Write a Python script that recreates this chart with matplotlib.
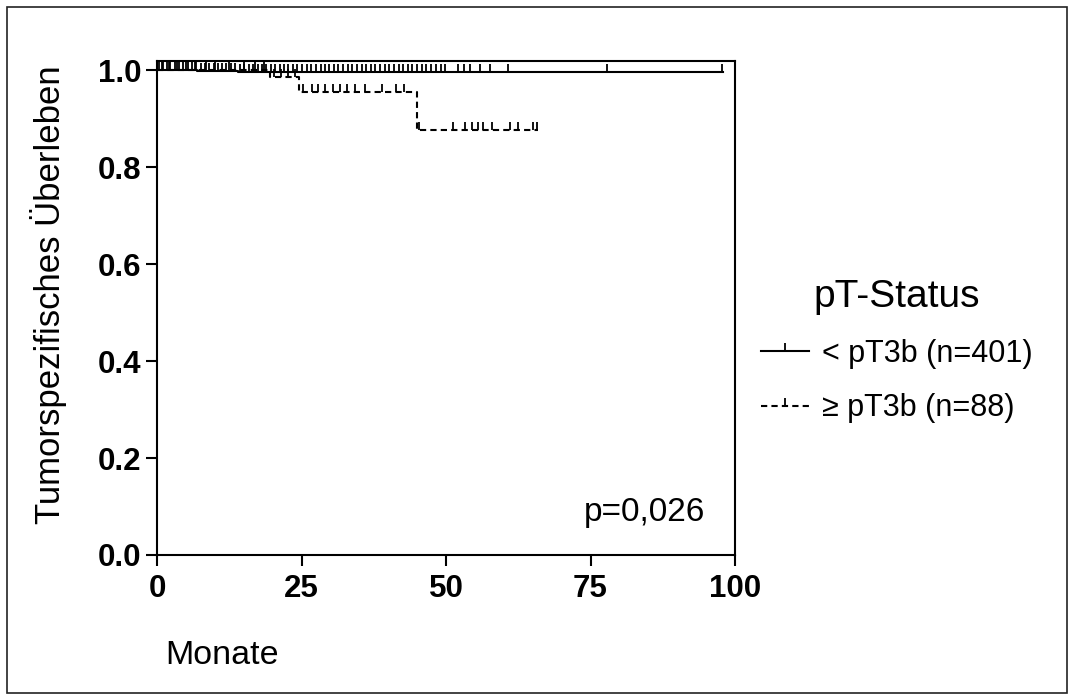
import numpy as np
import matplotlib.pyplot as plt
from matplotlib.path import Path
from matplotlib.lines import Line2D
from matplotlib.patches import Rectangle

plt.rcParams['font.family'] = ['Liberation Sans', 'DejaVu Sans']

# Kaplan-Meier steps (months, survival)
low_t = [0, 7, 14, 98]
low_s = [1.0, 0.9975, 0.995, 0.995]
high_t = [0, 19.5, 24.5, 45, 66]
high_s = [1.0, 0.986, 0.955, 0.876, 0.876]

# censored observations (months)
low_cens = [0.4, 1.0, 1.7, 2.3, 3.1, 3.8, 4.5, 5.3, 6.0, 6.8, 7.6, 8.3, 9.0,
            9.8, 10.5, 11.3, 12.0, 12.8, 13.5, 14.3, 15.1, 15.9, 16.6, 17.4,
            18.1, 18.9, 19.7, 20.4, 21.2, 22.0, 22.7, 23.5, 24.3, 25.0, 25.9,
            26.7, 27.5, 28.3, 29.0, 29.8, 30.6, 31.4, 32.2, 33.0, 33.8, 34.6,
            35.4, 36.2, 37.0, 37.8, 38.6, 39.4, 40.2, 41.0, 41.8, 42.6, 43.4,
            44.2, 45.0, 45.8, 46.6, 47.4, 48.3, 49.1, 49.9, 52.1, 53.2, 54.1,
            55.8, 57.6, 60.7, 77.9, 97.8]
high_cens = [0.8, 2.0, 3.5, 5.0, 6.5, 8.5, 10.0, 12.5, 15.0, 17.0, 18.5,
             20.3, 21.4, 22.6, 23.8,
             25.3, 26.8, 27.9, 29.1, 30.4, 31.7, 32.9, 34.3, 36.0, 38.9, 41.3, 42.7,
             45.4, 51.2, 53.3, 54.5, 55.5, 56.4, 58.0, 61.1, 62.5, 65.0, 65.7]

labels = ['< pT3b (n=401)', '\u2265 pT3b (n=88)']

tick = Path([(0, 0), (0, 1)])


def surv_at(times, steps, surv):
    idx = np.searchsorted(steps, times, side='right') - 1
    return np.array(surv)[idx]


fig = plt.figure(figsize=(10.74, 7.0), dpi=100)
ax = fig.add_axes([157 / 1074, 145 / 700, 578 / 1074, 494 / 700])

ax.step(low_t, low_s, where='post', color='black', lw=1.5)
ax.plot(low_cens, surv_at(low_cens, low_t, low_s), ls='none', marker=tick,
        ms=11, mew=1.3, color='black')
ax.step(high_t, high_s, where='post', color='black', lw=1.5, ls=(0, (3, 2)))
ax.plot(high_cens, surv_at(high_cens, high_t, high_s), ls='none', marker=tick,
        ms=11, mew=1.3, color='black')

ax.set_xlim(0, 100)
ax.set_ylim(0, 1.0186)
ax.set_xticks([0, 25, 50, 75, 100])
ax.set_yticks([0.0, 0.2, 0.4, 0.6, 0.8, 1.0])
ax.set_yticklabels(['0.0', '0.2', '0.4', '0.6', '0.8', '1.0'])
for sp in ax.spines.values():
    sp.set_linewidth(1.5)
ax.tick_params(direction='out', length=8, width=1.5, labelsize=22.5, pad=3)
ax.tick_params(axis='x', pad=6)
for lab in ax.get_xticklabels() + ax.get_yticklabels():
    lab.set_fontweight('bold')

ax.set_ylabel('Tumorspezifisches \u00dcberleben', fontsize=25)
ax.yaxis.set_label_coords(-0.155, 0.526)
fig.text(165 / 1074, 1 - 655 / 700, 'Monate', fontsize=24.5, ha='left', va='center')
ax.text(84.3, 0.087, 'p=0,026', fontsize=24, ha='center', va='center')

handles = [Line2D([], [], color='black', lw=1.5, marker=tick, ms=11, mew=1.3),
           Line2D([], [], color='black', lw=1.5, ls=(0, (3, 2)), marker=tick,
                  ms=11, mew=1.3)]
leg = ax.legend(handles, labels, title='pT-Status', loc='center left',
                bbox_to_anchor=(733 / 1074, 1 - 351 / 700),
                bbox_transform=fig.transFigure, frameon=False, fontsize=22,
                title_fontsize=28, numpoints=1, handlelength=1.6,
                handletextpad=0.4, labelspacing=0.8)
leg._legend_box.align = 'center'

fig.add_artist(Rectangle((7 / 1074, 7 / 700), 1060 / 1074, 686 / 700,
                         transform=fig.transFigure, fill=False, lw=1.2,
                         edgecolor='#222222'))

fig.savefig('out.png', dpi=100)
